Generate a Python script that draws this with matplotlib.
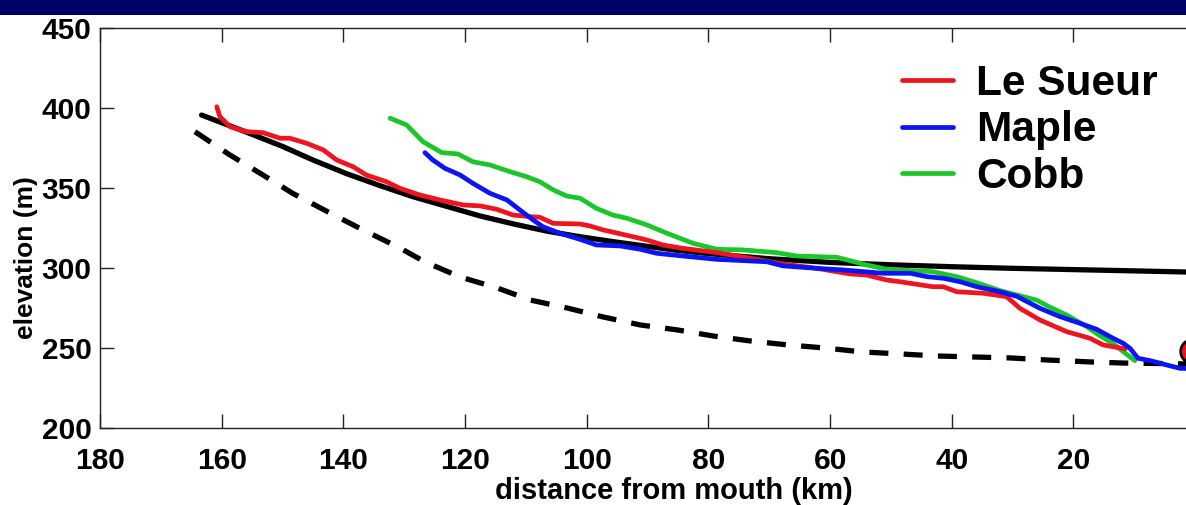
import matplotlib
matplotlib.use("Agg")
import matplotlib.pyplot as plt
from matplotlib.patches import Rectangle

plt.rcParams['font.family'] = ['Liberation Sans', 'DejaVu Sans']
plt.rcParams['font.weight'] = 'bold'

# ---- data (km from mouth, elevation m) ----
lesueur_km = [160.8, 160.3, 158.6, 155.9, 153.2, 150.4, 148.8, 146.0, 143.3, 141.1, 138.4, 136.2,
              132.9, 130.7, 127.4, 124.1, 120.3, 117.5, 114.8, 112.1, 109.3, 107.7, 105.5, 101.1,
              99.5, 97.3, 92.9, 90.1, 87.5, 84.2, 78.6, 73.1, 67.7, 62.2, 56.7, 54.0, 50.7, 48.5,
              43.1, 41.4, 39.2, 34.8, 31.0, 28.8, 25.5, 21.1, 17.3, 15.1, 13.5, 11.5]
lesueur_el = [400.8, 394.6, 388.3, 385.2, 384.6, 381.1, 381.1, 377.9, 373.8, 367.5, 363.3, 358.1,
              353.9, 349.8, 345.6, 342.5, 339.4, 338.8, 336.7, 333.1, 332.1, 331.7, 327.9, 327.5,
              326.3, 323.8, 320.0, 317.5, 314.4, 312.3, 309.6, 306.1, 302.5, 299.8, 296.3, 295.6,
              292.5, 291.4, 288.3, 288.3, 285.2, 284.2, 282.1, 274.8, 267.5, 260.2, 256.1, 251.9,
              250.8, 249.4]

maple_km = [126.6, 125.3, 123.3, 120.8, 118.7, 115.9, 113.1, 111.0, 108.8, 107.2, 104.4, 101.1,
            98.4, 94.5, 91.2, 88.5, 84.2, 78.6, 70.4, 67.7, 62.2, 57.9, 51.3, 46.8, 44.1, 41.4,
            38.6, 35.9, 32.1, 29.3, 25.5, 22.2, 18.9, 16.2, 13.5, 11.8, 10.7, 9.4, 7.4, 4.7, 2.5, 1.5]
maple_el = [372.1, 367.5, 362.3, 358.1, 352.9, 346.7, 342.5, 336.3, 330.0, 325.8, 321.7, 317.9,
            314.4, 313.8, 311.7, 309.2, 307.5, 305.4, 303.9, 301.3, 299.8, 298.8, 296.7, 296.7,
            294.6, 293.6, 291.4, 288.3, 285.2, 282.3, 274.8, 269.6, 265.4, 261.7, 256.1, 252.9,
            249.8, 243.6, 242.1, 239.4, 237.3, 237.2]

cobb_km = [132.3, 129.6, 126.9, 123.8, 121.2, 118.7, 115.9, 112.6, 109.9, 107.7, 105.5, 103.3,
           101.1, 98.4, 95.7, 93.4, 90.1, 86.8, 82.5, 78.6, 74.3, 68.8, 65.5, 58.9, 54.0, 50.7,
           43.1, 39.2, 35.7, 32.1, 26.1, 23.8, 21.1, 17.8, 15.6, 13.5, 11.8, 9.9]
cobb_el = [393.6, 389.4, 378.9, 372.1, 371.3, 366.4, 364.4, 360.2, 357.1, 353.9, 348.8, 345.0,
           343.6, 337.3, 333.1, 331.1, 326.9, 321.7, 315.4, 311.7, 311.3, 309.6, 307.5, 306.7,
           301.9, 299.2, 297.7, 294.6, 290.6, 285.9, 280.0, 275.4, 270.6, 263.3, 257.5, 252.9,
           247.7, 242.1]

model1_km = [163.3, 156.0, 150.0, 145.0, 139.5, 134.0, 128.5, 123.0, 117.5, 112.0, 106.5, 101.0,
             95.7, 90.0, 85.0, 80.0, 70.0, 60.0, 50.0, 40.0, 30.0, 20.0, 10.0, 1.5]
model1_el = [395.6, 385.0, 376.0, 367.5, 359.0, 351.5, 344.5, 338.5, 332.5, 327.5, 323.0, 319.5,
             316.5, 313.5, 311.0, 309.0, 305.8, 303.5, 302.0, 300.8, 299.8, 299.0, 298.2, 297.5]

model2_km = [164.4, 158.8, 153.5, 148.3, 142.8, 137.4, 130.7, 126.6, 120.8, 114.7, 109.3, 103.2,
             97.3, 91.2, 85.1, 79.2, 73.1, 66.9, 60.8, 54.6, 48.5, 42.4, 36.5, 30.4, 24.3, 17.3,
             11.8, 5.7, 1.5]
model2_el = [385.2, 371.0, 358.8, 346.6, 335.6, 325.0, 312.5, 303.8, 294.4, 287.5, 280.0, 275.0,
             269.4, 264.4, 261.3, 257.5, 254.4, 251.9, 250.0, 247.5, 246.3, 245.0, 244.4, 243.8,
             242.5, 241.3, 240.6, 240.3, 240.0]

outlet_km = [0.5]
outlet_el = [248.0]

series_names = ['Le Sueur', 'Maple', 'Cobb']
series_colors = ['#f0141e', '#0a14f5', '#19c828']
xticks = [180, 160, 140, 120, 100, 80, 60, 40, 20]
yticks = [200, 250, 300, 350, 400, 450]

W, H = 1186, 505
fig = plt.figure(figsize=(W / 100, H / 100), dpi=100)
fig.patches.append(Rectangle((0, 1 - 15 / H), 1, 15 / H, transform=fig.transFigure,
                             facecolor='#000066', edgecolor='none'))

ax = fig.add_axes([100 / W, (H - 428) / H, (W - 100) / W, 400 / H])

ax.plot(model2_km, model2_el, color='black', lw=3.8, dashes=(3.6, 2.9), zorder=2)
ax.plot(model1_km, model1_el, color='black', lw=3.8, zorder=3, solid_capstyle='round',
        solid_joinstyle='round')
handles = []
for km, el, name, c in zip([lesueur_km, maple_km, cobb_km], [lesueur_el, maple_el, cobb_el],
                           series_names, series_colors):
    h, = ax.plot(km, el, color=c, lw=3.4, label=name, zorder=4, solid_capstyle='round',
                 solid_joinstyle='round')
    handles.append(h)
handles[2].set_zorder(3.5)
ax.plot(outlet_km, outlet_el, 'o', ms=17, mfc='#f0141e', mec='black', mew=2, clip_on=False, zorder=6)

ax.set_xlim(180, 1.5)
ax.set_ylim(200, 450)
ax.set_xticks(xticks)
ax.set_yticks(yticks)
ax.tick_params(axis='both', direction='in', length=10, width=1, colors='#222222',
               labelsize=21.5, labelcolor='black')
ax.tick_params(axis='x', top=True, pad=14)
ax.tick_params(axis='y', pad=6)
for lab in ax.get_xticklabels() + ax.get_yticklabels():
    lab.set_fontweight('bold')
for s in ['left', 'bottom', 'top']:
    ax.spines[s].set_linewidth(1.0)
    ax.spines[s].set_color('#222222')
ax.spines['right'].set_visible(False)

ax.set_xlabel('distance from mouth (km)', fontsize=21, fontweight='bold')
ax.set_ylabel('elevation (m)', fontsize=19, fontweight='bold')
ax.xaxis.set_label_coords(0.528, -0.122)
ax.yaxis.set_label_coords(-0.057, 0.425)

leg = ax.legend(handles=handles, loc='upper left', bbox_to_anchor=(902 / W, 1 - 64 / H),
                bbox_transform=fig.transFigure, frameon=False, borderpad=0, borderaxespad=0,
                handlelength=1.2, handletextpad=0.55, labelspacing=0.15,
                prop={'family': ['Liberation Sans'], 'weight': 'bold', 'size': 30.5})
for line in leg.get_lines():
    line.set_linewidth(3.4)

fig.savefig('out.png', dpi=100)
